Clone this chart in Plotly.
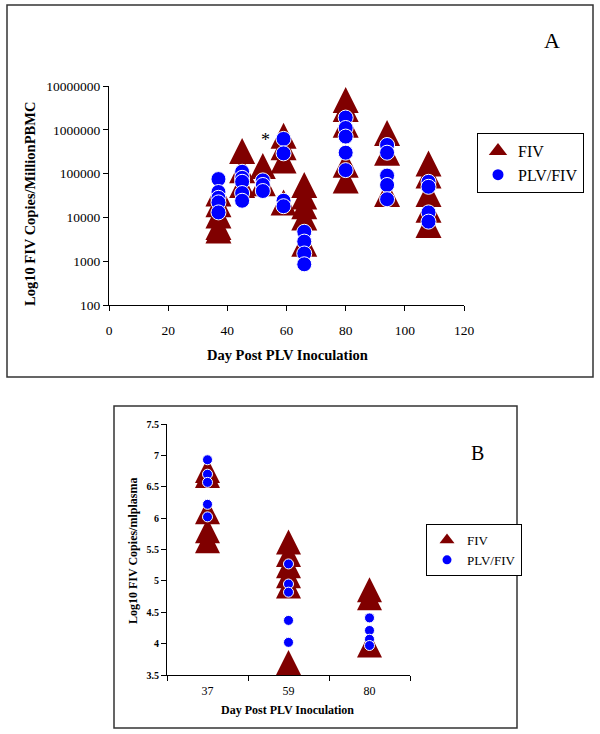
import plotly.graph_objects as go

# ---------------- Panel A data ----------------
days_a = [37, 45, 52, 59, 66, 80, 94, 108]
fiv_a = [
    [35000, 20000, 11000, 6000, 5000],
    [330000, 120000, 55000],
    [150000, 60000],
    [730000, 400000, 200000, 22000],
    [55000, 30000, 18000, 10000, 2500],
    [4800000, 3000000, 1300000, 160000, 70000],
    [850000, 300000, 34000],
    [170000, 90000, 34000, 15000, 6700],
]
plv_a = [
    [75000, 38000, 28000, 22000, 13000],
    [110000, 80000, 65000, 36000, 24000],
    [70000, 55000, 40000],
    [620000, 290000, 24000, 18000],
    [4700, 2800, 1500, 850],
    [1900000, 1100000, 700000, 300000, 120000],
    [450000, 300000, 90000, 55000, 26000],
    [65000, 50000, 13000, 8000],
]
a_ytickvals = [100, 1000, 10000, 100000, 1000000, 10000000]
a_yticktext = ["100", "1000", "10000", "100000", "1000000", "10000000"]
a_xtickvals = [0, 20, 40, 60, 80, 100, 120]

# ---------------- Panel B data ----------------
days_b = ["37", "59", "80"]
fiv_b = [
    [6.76, 6.68, 6.1, 5.8, 5.64],
    [5.62, 5.42, 5.24, 5.08, 4.92, 3.7],
    [4.86, 4.73, 3.98],
]
plv_b = [
    [6.93, 6.70, 6.57, 6.22, 6.02],
    [5.27, 4.95, 4.82, 4.37, 4.02],
    [4.41, 4.21, 4.07, 3.97],
]
b_ytickvals = [3.5, 4, 4.5, 5, 5.5, 6, 6.5, 7, 7.5]
b_yticktext = ["3.5", "4", "4.5", "5", "5.5", "6", "6.5", "7", "7.5"]


def flatten(days, groups):
    xs, ys = [], []
    for d, vals in zip(days, groups):
        for v in vals:
            xs.append(d)
            ys.append(v)
    return xs, ys


MAROON = "#800000"
BLUE = "#0000FF"
SERIF = "Liberation Serif, Times New Roman, serif"
W, H = 600, 734


def px_x(p):
    return p / W


def px_y(p):
    return 1 - p / H


fig = go.Figure()

# Panel A
xa, ya = flatten(days_a, fiv_a)
fig.add_trace(go.Scatter(
    x=xa, y=ya, mode="markers", xaxis="x", yaxis="y", showlegend=False,
    cliponaxis=False,
    marker=dict(symbol="arrow-down", angle=180, standoff=13, size=26,
                color=MAROON, line=dict(width=0))))
xa, ya = flatten(days_a, plv_a)
fig.add_trace(go.Scatter(
    x=xa, y=ya, mode="markers", xaxis="x", yaxis="y", showlegend=False,
    cliponaxis=False,
    marker=dict(symbol="circle", size=15, color=BLUE,
                line=dict(width=1, color="white"))))
# Legend A
fig.add_trace(go.Scatter(x=[None], y=[None], mode="markers", name="FIV",
                         xaxis="x", yaxis="y", legend="legend",
                         marker=dict(symbol="triangle-up", size=16, color=MAROON)))
fig.add_trace(go.Scatter(x=[None], y=[None], mode="markers", name="PLV/FIV",
                         xaxis="x", yaxis="y", legend="legend",
                         marker=dict(symbol="circle", size=11, color=BLUE)))

# Panel B
xb, yb = flatten(days_b, fiv_b)
fig.add_trace(go.Scatter(
    x=xb, y=yb, mode="markers", xaxis="x2", yaxis="y2", showlegend=False,
    cliponaxis=False,
    marker=dict(symbol="arrow-down", angle=180, standoff=12.5, size=25,
                color=MAROON, line=dict(width=0))))
xb, yb = flatten(days_b, plv_b)
fig.add_trace(go.Scatter(
    x=xb, y=yb, mode="markers", xaxis="x2", yaxis="y2", showlegend=False,
    cliponaxis=False,
    marker=dict(symbol="circle", size=10, color=BLUE,
                line=dict(width=1, color="white"))))
fig.add_trace(go.Scatter(x=[None], y=[None], mode="markers", name="FIV",
                         xaxis="x2", yaxis="y2", legend="legend2",
                         marker=dict(symbol="triangle-up", size=13, color=MAROON)))
fig.add_trace(go.Scatter(x=[None], y=[None], mode="markers", name="PLV/FIV",
                         xaxis="x2", yaxis="y2", legend="legend2",
                         marker=dict(symbol="circle", size=9, color=BLUE)))

axis_common = dict(showline=True, linecolor="black", linewidth=1,
                   ticks="outside", ticklen=5, tickcolor="black",
                   showgrid=False, zeroline=False, automargin=False)

fig.update_layout(
    width=W, height=H,
    margin=dict(l=0, r=0, t=0, b=0, pad=0, autoexpand=False),
    paper_bgcolor="white", plot_bgcolor="white",
    font=dict(family=SERIF, color="black", size=13),
    xaxis=dict(domain=[px_x(109), px_x(464)], anchor="y", range=[0, 120],
               tickvals=a_xtickvals, ticklabelstandoff=8,
               tickfont=dict(size=13.5), **axis_common),
    yaxis=dict(domain=[px_y(305), px_y(86)], anchor="x", type="log",
               range=[2, 7], tickvals=a_ytickvals, ticktext=a_yticktext,
               tickfont=dict(size=13.5), **axis_common),
    xaxis2=dict(domain=[px_x(167), px_x(410)], anchor="y2", type="category",
                categoryorder="array", categoryarray=days_b,
                range=[-0.5, 2.5], tickson="boundaries",
                tickfont=dict(size=12), ticklabelstandoff=5, **axis_common),
    yaxis2=dict(domain=[px_y(675), px_y(424)], anchor="x2", range=[3.5, 7.5],
                tickvals=b_ytickvals, ticktext=b_yticktext,
                tickfont=dict(size=10, weight="bold"), **axis_common),
    legend=dict(x=px_x(477), y=px_y(133), xanchor="left", yanchor="top",
                bordercolor="black", borderwidth=1, bgcolor="white",
                font=dict(family=SERIF, size=16), itemwidth=30),
    legend2=dict(x=px_x(426), y=px_y(524), xanchor="left", yanchor="top",
                 bordercolor="black", borderwidth=1, bgcolor="white",
                 font=dict(family=SERIF, size=13), itemwidth=30),
    shapes=[
        dict(type="rect", xref="paper", yref="paper",
             x0=px_x(7), x1=px_x(593), y0=px_y(377), y1=px_y(5),
             line=dict(color="#333333", width=1.5)),
        dict(type="rect", xref="paper", yref="paper",
             x0=px_x(114), x1=px_x(517), y0=px_y(728), y1=px_y(406),
             line=dict(color="#333333", width=1.5)),
    ],
)

ann_common = dict(showarrow=False, xanchor="center", yanchor="middle")
fig.update_layout(annotations=[
    dict(text="<b>Log10 FIV Copies/MillionPBMC</b>", xref="paper", yref="paper",
         x=px_x(30), y=px_y(204), textangle=-90, font=dict(size=14.5), **ann_common),
    dict(text="<b>Day Post PLV Inoculation</b>", xref="paper", yref="paper",
         x=px_x(287), y=px_y(355), font=dict(size=14.5), **ann_common),
    dict(text="A", xref="paper", yref="paper", x=px_x(552), y=px_y(40),
         font=dict(size=22), **ann_common),
    dict(text="*", xref="x", yref="y", x=53, y=5.76, font=dict(size=18), **ann_common),
    dict(text="<b>Log10 FIV Copies/mlplasma</b>", xref="paper", yref="paper",
         x=px_x(133), y=px_y(551), textangle=-90, font=dict(size=12), **ann_common),
    dict(text="<b>Day Post PLV Inoculation</b>", xref="paper", yref="paper",
         x=px_x(287), y=px_y(710), font=dict(size=12), **ann_common),
    dict(text="B", xref="paper", yref="paper", x=px_x(477), y=px_y(453),
         font=dict(size=20), **ann_common),
])

fig.write_html("out.html", config={"displayModeBar": False},
               post_script="document.body.style.margin='0px';document.body.style.overflow='hidden';")
